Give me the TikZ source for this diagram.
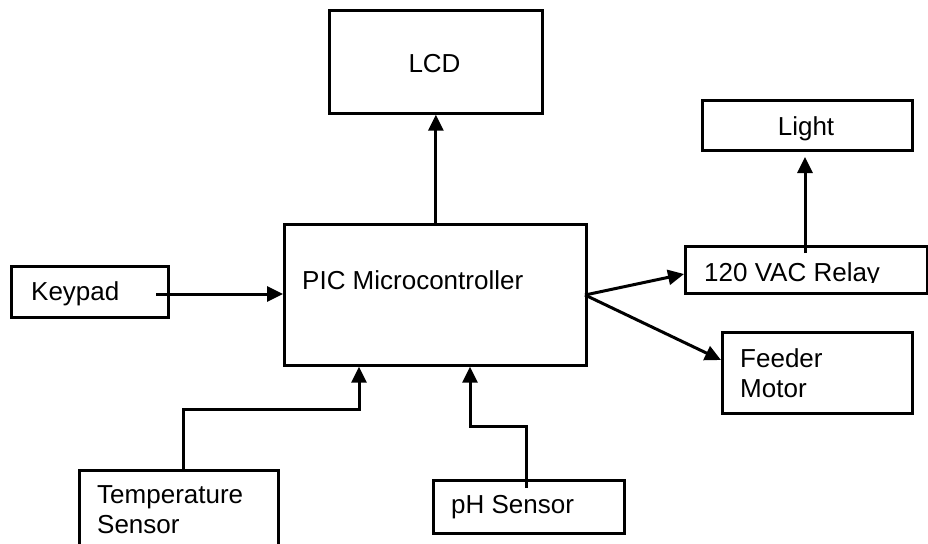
\documentclass[tikz,border=0pt]{standalone}
\usepackage{fontspec}
\setmainfont{Liberation Sans}
\usetikzlibrary{arrows.meta}
\tikzset{
  blk/.style={draw=black, line width=2.7pt, inner sep=0pt, anchor=north west},
  lbl/.style={inner sep=0pt, anchor=base west, font=\fontsize{26}{30}\selectfont, text=black},
  clbl/.style={inner sep=0pt, anchor=base, font=\fontsize{26}{30}\selectfont, text=black},
  arr/.style={draw=black, line width=3pt, -{Triangle[length=16pt,width=15pt]}},
}
\begin{document}
\begin{tikzpicture}[x=1pt,y=-1pt]
\useasboundingbox (0,0) rectangle (928,543);
\clip (0,0) rectangle (928,543);
\fill[white] (0,0) rectangle (928,543);
% boxes
\node[blk, minimum width=213pt, minimum height=103pt] (lcd) at (328,9) {};
\node[blk, minimum width=302pt, minimum height=141pt] (pic) at (283,223) {};
\node[blk, minimum width=157pt, minimum height=51pt] (keypad) at (10,265) {};
\node[blk, minimum width=242pt, minimum height=47pt] (relay) at (684,245) {};
\node[blk, minimum width=210pt, minimum height=50pt] (light) at (701,99) {};
\node[blk, minimum width=190pt, minimum height=81pt] (feeder) at (721,331) {};
\node[blk, minimum width=199pt, minimum height=90pt] (temp) at (78,469) {};
\node[blk, minimum width=191pt, minimum height=53pt] (ph) at (432,479) {};
% texts
\node[clbl] (lcd-t) at (434.5,73) {LCD};
\node[lbl] (pic-t) at (302,289) {PIC Microcontroller};
\node[lbl] (keypad-t) at (31,300) {Keypad};
\begin{scope}
  \clip (684,245) rectangle (928,282);
  \node[lbl] (relay-t) at (704,281) {120 VAC Relay};
\end{scope}
\node[clbl] (light-t) at (806,135) {Light};
\node[lbl, align=left] (feeder-t) at (740,397) {Feeder\\Motor};
\node[lbl, align=left] (temp-t) at (97,533) {Temperature\\Sensor};
\node[lbl] (ph-t) at (451,513) {pH Sensor};
% connectors
\coordinate (kp-out) at (156,294);
\draw[arr] (kp-out) -- (kp-out -| pic.west);
\draw[arr] (pic.north -| lcd.south) -- (lcd.south);
\coordinate (pic-out) at (585,295);
\draw[arr] (pic-out) -- (relay.west |- 0,274);
\draw[arr] (pic-out) -- (feeder.west |- 0,360);
\coordinate (rl-out) at (805,253);
\draw[arr] (rl-out) -- (805,157);
\coordinate (t-bend) at (183,409);
\draw[arr] (t-bend |- temp.north) -- (t-bend) -| (pic.south -| 359,0);
\coordinate (p-bend) at (526,426);
\draw[arr] (p-bend |- 0,488) -- (p-bend) -| (pic.south -| 470,0);
\end{tikzpicture}
\end{document}
